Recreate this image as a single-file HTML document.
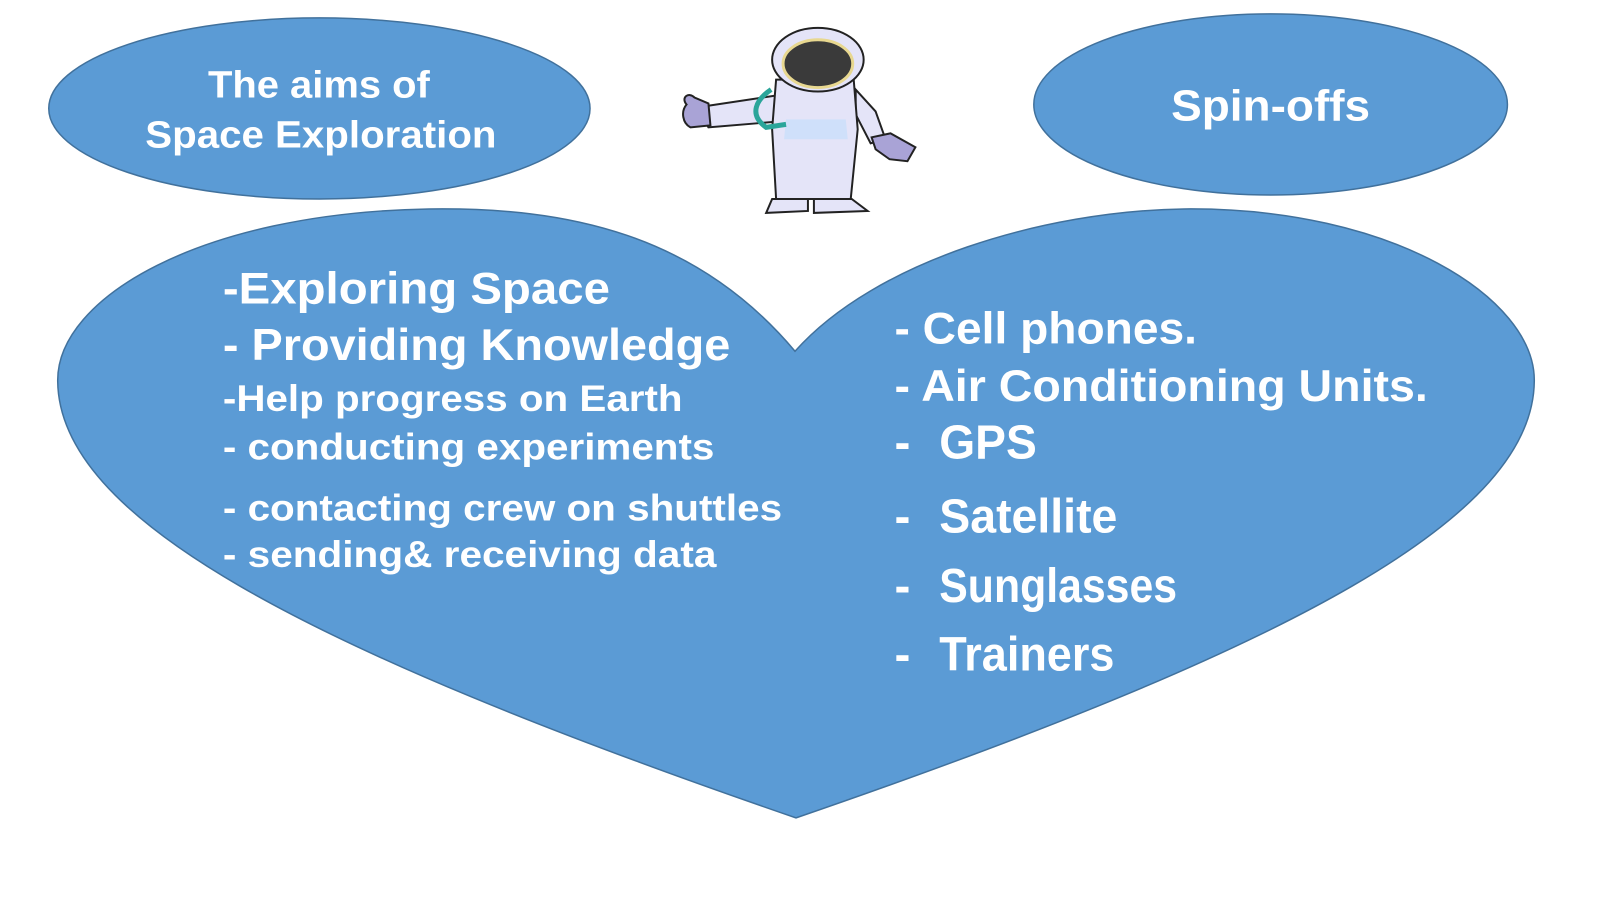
<!DOCTYPE html>
<html><head><meta charset="utf-8"><style>html,body{margin:0;padding:0;background:#fff}svg{display:block}</style></head>
<body>
<svg width="1600" height="900" viewBox="0 0 1600 900" xmlns="http://www.w3.org/2000/svg" font-family="Liberation Sans, sans-serif" font-weight="bold" fill="#fff">
<g transform="scale(0.995)">
<ellipse cx="321" cy="109" rx="272" ry="91" fill="#5b9bd5" stroke="#41719c" stroke-width="1.5"/>
<ellipse cx="1277" cy="105" rx="238" ry="91" fill="#5b9bd5" stroke="#41719c" stroke-width="1.5"/>
<path d="M799,353 C700,235 570,208 431,210 C200,214 58,300 58,382 C58,520 300,650 800,822 C1300,650 1542,520 1542,382 C1542,300 1400,208 1190,210 C1050,212 880,262 799,353 Z" fill="#5b9bd5" stroke="#41719c" stroke-width="1.5"/>
<g stroke="#222" stroke-width="2">
<path d="M700,108 L780,96 L784,122 L712,128 Z" fill="#e4e4f8"/>
<path d="M690,105 C684,98 692,92 698,98 L712,104 L714,126 L694,128 C686,124 684,112 690,105Z" fill="#a9a3d6"/>
<path d="M860,90 L880,112 L890,140 L875,144 L860,115Z" fill="#e4e4f8"/>
<path d="M876,138 L895,134 L920,148 L912,162 L894,160 L880,150Z" fill="#a9a3d6"/>
<path d="M780,80 L858,80 L862,130 L855,200 L780,200 L776,130Z" fill="#e4e4f8"/>
<path d="M790,120 L850,120 L852,140 L788,140Z" fill="#cfe0fa" stroke="none"/>
<ellipse cx="822" cy="60" rx="46" ry="32" fill="#e4e4f8"/>
<ellipse cx="822" cy="64" rx="35" ry="24" fill="#3a3a3a" stroke="#e8d890" stroke-width="3"/>
<path d="M776,200 L812,200 L812,212 L770,214 Z" fill="#e4e4f8"/>
<path d="M818,200 L856,200 L872,212 L818,214 Z" fill="#e4e4f8"/>
</g>
<path d="M775,90 C760,100 752,115 770,128 L790,125" fill="none" stroke="#2aa59a" stroke-width="5"/>
<g font-size="45">
<text x="224" y="305" textLength="389" lengthAdjust="spacingAndGlyphs">-Exploring Space</text>
<text x="224" y="362" textLength="510" lengthAdjust="spacingAndGlyphs">- Providing Knowledge</text>
</g>
<g font-size="37">
<text x="224" y="413" textLength="462" lengthAdjust="spacingAndGlyphs">-Help progress on Earth</text>
<text x="224" y="462" textLength="494" lengthAdjust="spacingAndGlyphs">- conducting experiments</text>
<text x="224" y="523" textLength="562" lengthAdjust="spacingAndGlyphs">- contacting crew on shuttles</text>
<text x="224" y="570" textLength="496" lengthAdjust="spacingAndGlyphs">- sending&amp; receiving data</text>
</g>
<g font-size="45">
<text x="899" y="345" textLength="304" lengthAdjust="spacingAndGlyphs">- Cell phones.</text>
<text x="899" y="403" textLength="536" lengthAdjust="spacingAndGlyphs">- Air Conditioning Units.</text>
</g>
<g font-size="48">
<text x="899" y="461">-</text><text x="944" y="461" textLength="98" lengthAdjust="spacingAndGlyphs">GPS</text>
<text x="899" y="535">-</text><text x="944" y="535" textLength="179" lengthAdjust="spacingAndGlyphs">Satellite</text>
<text x="899" y="605">-</text><text x="944" y="605" textLength="239" lengthAdjust="spacingAndGlyphs">Sunglasses</text>
<text x="899" y="674">-</text><text x="944" y="674" textLength="176" lengthAdjust="spacingAndGlyphs">Trainers</text>
</g>
<g font-size="38">
<text x="209" y="98" textLength="223" lengthAdjust="spacingAndGlyphs">The aims of</text>
<text x="146" y="148" textLength="353" lengthAdjust="spacingAndGlyphs">Space Exploration</text>
</g>
<text x="1177" y="121" font-size="44" textLength="200" lengthAdjust="spacingAndGlyphs">Spin-offs</text>
</g>
</svg>
</body></html>
